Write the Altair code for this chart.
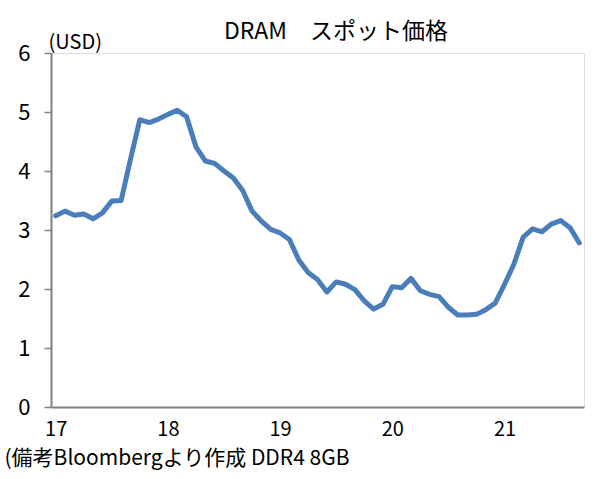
import altair as alt
import pandas as pd

# DRAM spot price (DDR4 8GB), monthly, Jan 2017 - Sep 2021, USD
start_year = 17
prices = [
    3.24, 3.32, 3.25, 3.27, 3.19, 3.29, 3.49, 3.50, 4.20, 4.87, 4.82, 4.88,
    4.96, 5.03, 4.92, 4.41, 4.17, 4.13, 4.00, 3.88, 3.67, 3.32, 3.15, 3.01,
    2.95, 2.84, 2.49, 2.28, 2.16, 1.95, 2.12, 2.08, 1.99, 1.80, 1.66, 1.74,
    2.04, 2.02, 2.18, 1.97, 1.91, 1.87, 1.69, 1.56, 1.56, 1.57, 1.65, 1.76,
    2.08, 2.42, 2.88, 3.02, 2.97, 3.10, 3.16, 3.04, 2.78,
]
year_ticks = [0, 12, 24, 36, 48]
y_ticks = [0, 1, 2, 3, 4, 5, 6]

title_text = "DRAM\u3000スポット価格"
unit_text = "(USD)"
note_text = "(備考Bloombergより作成 DDR4 8GB"

df = pd.DataFrame({"month": list(range(len(prices))), "price": prices})

FONT = "Noto Sans CJK JP"

chart = (
    alt.Chart(df)
    .mark_line(color="#4a7ebb", strokeWidth=5, strokeJoin="round", strokeCap="round")
    .encode(
        x=alt.X(
            "month:Q",
            scale=alt.Scale(domain=[-0.5, len(prices) - 0.5], nice=False, zero=False),
            axis=alt.Axis(
                values=year_ticks,
                labelExpr=f"toString({start_year} + floor(datum.value / 12))",
                ticks=False,
                grid=False,
                domainColor="#808080",
                domainWidth=2,
                labelFont=FONT,
                labelFontSize=20,
                labelColor="black",
                labelPadding=12,
                labelFlush=False,
                title=note_text,
                titleFont=FONT,
                titleFontSize=21,
                titleFontWeight="normal",
                titleColor="black",
                titleAlign="left",
                titleBaseline="alphabetic",
                titleAnchor="start",
                titleX=-47,
                titleY=57,
            ),
        ),
        y=alt.Y(
            "price:Q",
            scale=alt.Scale(domain=[0, 6], nice=False),
            axis=alt.Axis(
                values=y_ticks,
                format="d",
                grid=False,
                domainColor="#808080",
                domainWidth=2,
                tickColor="#808080",
                tickWidth=1.5,
                tickSize=7,
                labelFont=FONT,
                labelFontSize=22,
                labelColor="black",
                labelPadding=14,
                title=unit_text,
                titleFont=FONT,
                titleFontSize=20,
                titleFontWeight="normal",
                titleColor="black",
                titleAngle=0,
                titleAlign="left",
                titleBaseline="alphabetic",
                titleX=-3,
                titleY=-5,
            ),
        ),
    )
    .properties(
        width=533,
        height=354,
        autosize=alt.AutoSizeParams(type="none"),
        padding={"left": 51, "top": 53, "right": 18, "bottom": 72},
        title=alt.TitleParams(
            text=title_text,
            anchor="start",
            frame="group",
            dx=173,
            dy=30,
            offset=0,
            baseline="alphabetic",
            font=FONT,
            fontSize=23,
            fontWeight="normal",
            color="black",
        ),
    )
    .configure_view(stroke="black", strokeWidth=1)
    .configure(background="white")
)

chart.save("out.html", embed_options={"renderer": "svg", "actions": False})
